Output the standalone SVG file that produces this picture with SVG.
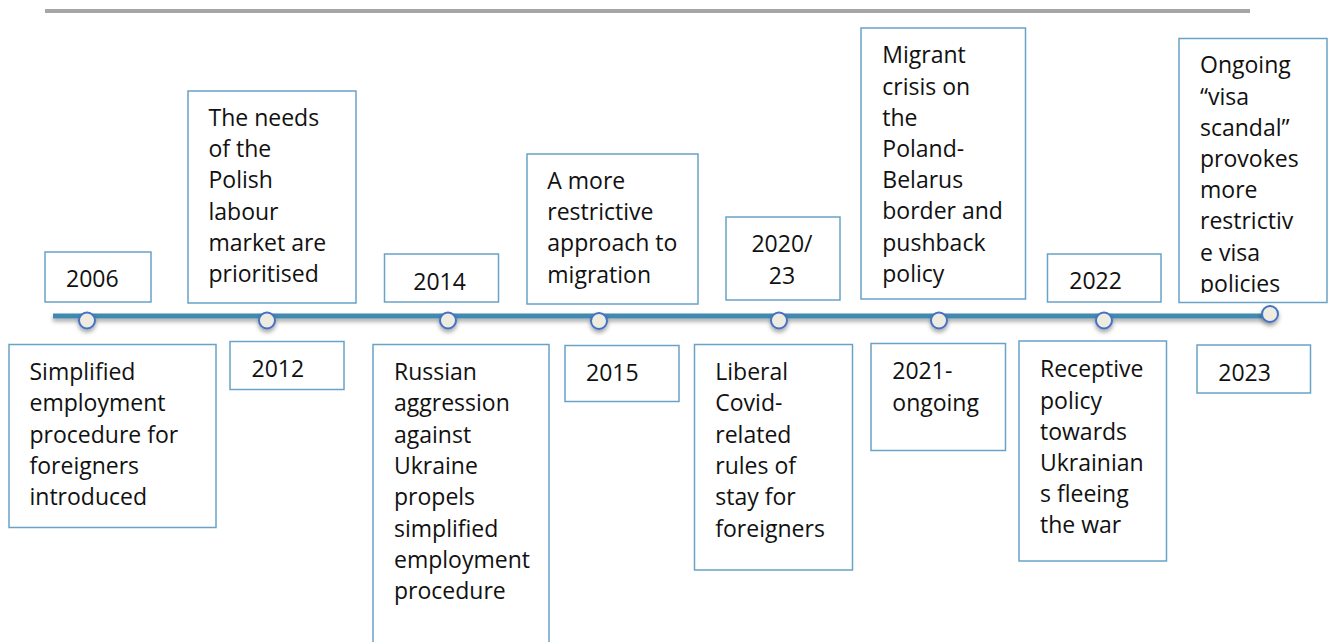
<svg xmlns="http://www.w3.org/2000/svg" width="1330" height="642" viewBox="0 0 1330 642">
<style>
.box{fill:#fff;stroke:#68a3c7;stroke-width:1.5}
.t{font-family:"Open Sans","Liberation Sans",sans-serif;font-size:23px;fill:#111}
.dot{fill:#eeece1;stroke:#4472c4;stroke-width:2}
</style>
<defs>
<filter id="sh" filterUnits="userSpaceOnUse" x="0" y="280" width="1330" height="70">
<feDropShadow dx="0" dy="3" stdDeviation="2" flood-color="#000" flood-opacity="0.35"/>
</filter>
<clipPath id="clipOng"><rect x="1178" y="38" width="150" height="255"/></clipPath>
</defs>
<rect x="45" y="9" width="1205" height="4" fill="#a6a6a6"/>
<g id="connectors">
<rect x="53" y="313.5" width="1217" height="5" fill="#4389b0" filter="url(#sh)"/>
<g filter="url(#sh)">
<circle class="dot" cx="87" cy="320.5" r="8"/>
<circle class="dot" cx="267" cy="320.5" r="8"/>
<circle class="dot" cx="448" cy="320.5" r="8"/>
<circle class="dot" cx="599" cy="321" r="8"/>
<circle class="dot" cx="779" cy="320.5" r="8"/>
<circle class="dot" cx="939" cy="320.5" r="8"/>
<circle class="dot" cx="1104" cy="320.5" r="8"/>
<circle class="dot" cx="1270" cy="314" r="8"/>
</g>
</g>
<g id="y2006"><rect class="box" x="45" y="252" width="106" height="50"/><text class="t" x="66" y="287">2006</text></g>
<g id="e2006"><rect class="box" x="9" y="344.5" width="207" height="183"/>
<text class="t"><tspan x="29.5" y="380">Simplified</tspan><tspan x="29.5" y="411.3">employment</tspan><tspan x="29.5" y="442.6">procedure for</tspan><tspan x="29.5" y="473.9">foreigners</tspan><tspan x="29.5" y="505.2">introduced</tspan></text></g>
<g id="e2012"><rect class="box" x="188" y="91" width="168" height="212"/>
<text class="t"><tspan x="208.5" y="126">The needs</tspan><tspan x="208.5" y="157.2">of the</tspan><tspan x="208.5" y="188.4">Polish</tspan><tspan x="208.5" y="219.6">labour</tspan><tspan x="208.5" y="250.8">market are</tspan><tspan x="208.5" y="282">prioritised</tspan></text></g>
<g id="y2012"><rect class="box" x="230" y="341.5" width="114" height="48"/><text class="t" x="251.5" y="376.7">2012</text></g>
<g id="y2014"><rect class="box" x="384.5" y="254" width="114" height="48"/><text class="t" x="413.3" y="290">2014</text></g>
<g id="e2014"><rect class="box" x="373" y="344.5" width="176" height="310"/>
<text class="t"><tspan x="394" y="380">Russian</tspan><tspan x="394" y="411.3">aggression</tspan><tspan x="394" y="442.6">against</tspan><tspan x="394" y="473.9">Ukraine</tspan><tspan x="394" y="505.2">propels</tspan><tspan x="394" y="536.5">simplified</tspan><tspan x="394" y="567.8">employment</tspan><tspan x="394" y="599.1">procedure</tspan></text></g>
<g id="e2015"><rect class="box" x="527" y="154" width="171" height="150"/>
<text class="t"><tspan x="547.3" y="189">A more</tspan><tspan x="547.3" y="220.2">restrictive</tspan><tspan x="547.3" y="251.4">approach to</tspan><tspan x="547.3" y="282.6">migration</tspan></text></g>
<g id="y2015"><rect class="box" x="565" y="345.5" width="114" height="56"/><text class="t" x="586" y="381">2015</text></g>
<g id="y2020"><rect class="box" x="726" y="217" width="114" height="83"/>
<text class="t" text-anchor="middle"><tspan x="782" y="252.3">2020/</tspan><tspan x="782" y="284">23</tspan></text></g>
<g id="e2020"><rect class="box" x="694.5" y="344.5" width="158" height="225.5"/>
<text class="t"><tspan x="715.3" y="380">Liberal</tspan><tspan x="715.3" y="411.3">Covid-</tspan><tspan x="715.3" y="442.6">related</tspan><tspan x="715.3" y="473.9">rules of</tspan><tspan x="715.3" y="505.2">stay for</tspan><tspan x="715.3" y="536.5">foreigners</tspan></text></g>
<g id="e2021"><rect class="box" x="861" y="28" width="164.5" height="271"/>
<text class="t"><tspan x="882.3" y="63.3">Migrant</tspan><tspan x="882.3" y="94.5">crisis on</tspan><tspan x="882.3" y="125.7">the</tspan><tspan x="882.3" y="156.9">Poland-</tspan><tspan x="882.3" y="188.1">Belarus</tspan><tspan x="882.3" y="219.3">border and</tspan><tspan x="882.3" y="250.5">pushback</tspan><tspan x="882.3" y="281.7">policy</tspan></text></g>
<g id="y2021"><rect class="box" x="871" y="343.5" width="134.5" height="107"/>
<text class="t"><tspan x="892.3" y="379.3">2021-</tspan><tspan x="892.3" y="410.5">ongoing</tspan></text></g>
<g id="y2022"><rect class="box" x="1047.5" y="254" width="113.5" height="48"/><text class="t" x="1069.3" y="289.3">2022</text></g>
<g id="e2022"><rect class="box" x="1019" y="341" width="147.5" height="220"/>
<text class="t"><tspan x="1040" y="377.3">Receptive</tspan><tspan x="1040" y="408.5">policy</tspan><tspan x="1040" y="439.7">towards</tspan><tspan x="1040" y="470.9">Ukrainian</tspan><tspan x="1040" y="502.1">s fleeing</tspan><tspan x="1040" y="533.3">the war</tspan></text></g>
<g id="e2023"><rect class="box" x="1179" y="38.5" width="148" height="264"/>
<text class="t" clip-path="url(#clipOng)"><tspan x="1200" y="73.3">Ongoing</tspan><tspan x="1200" y="104.5">“visa</tspan><tspan x="1200" y="135.7">scandal”</tspan><tspan x="1200" y="166.9">provokes</tspan><tspan x="1200" y="198.1">more</tspan><tspan x="1200" y="229.3">restrictiv</tspan><tspan x="1200" y="260.5">e visa</tspan><tspan x="1200" y="291.7">policies</tspan></text></g>
<g id="y2023"><rect class="box" x="1197" y="345" width="113.5" height="48"/><text class="t" x="1218.3" y="381">2023</text></g>
</svg>
